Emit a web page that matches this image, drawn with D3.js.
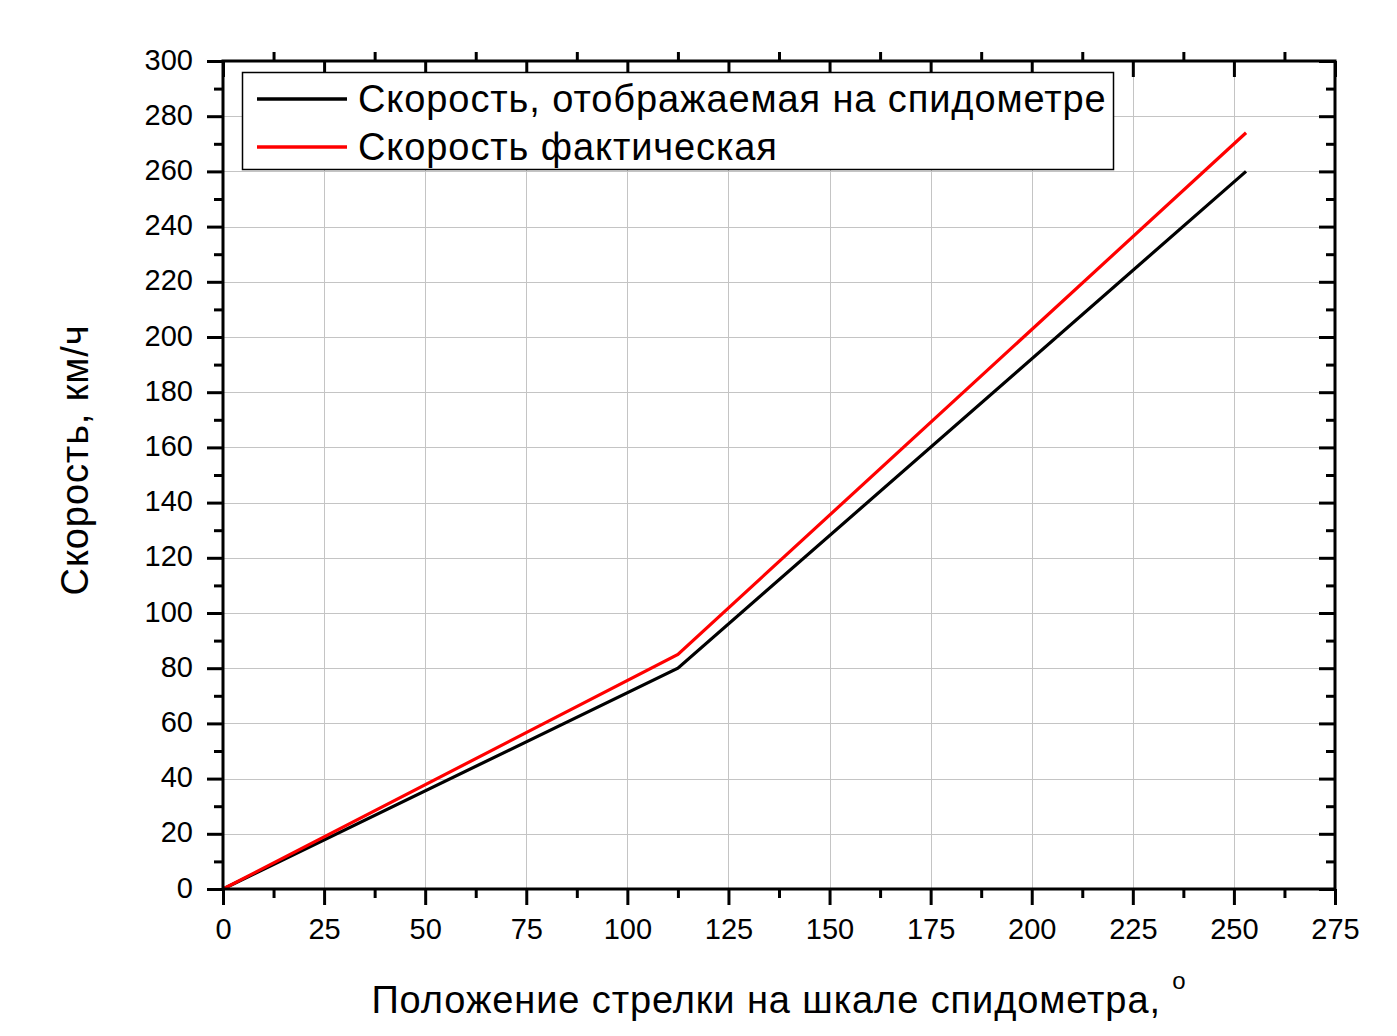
<!DOCTYPE html>
<html>
<head>
<meta charset="utf-8">
<script src="https://cdn.jsdelivr.net/npm/d3@7"></script>
<style>
  html, body { margin: 0; padding: 0; background: #fff; }
  svg { display: block; font-family: "Liberation Sans", Arial, sans-serif; }
</style>
</head>
<body>
<svg id="chart" width="1397" height="1036"></svg>
<script>
// ---- data ----
const seriesNames = ["Скорость, отображаемая на спидометре", "Скорость фактическая"];
const seriesColors = ["#000000", "#ff0000"];
const angles = [0, 112.5, 253];
const speedShown = [0, 80, 260];
const speedActual = [0, 85, 274];
const xTicks = [0, 25, 50, 75, 100, 125, 150, 175, 200, 225, 250, 275];
const yTicks = [0, 20, 40, 60, 80, 100, 120, 140, 160, 180, 200, 220, 240, 260, 280, 300];
const xTitle = "Положение стрелки на шкале спидометра, ";
const xTitleSup = "o";
const yTitle = "Скорость, км/ч";

// ---- layout ----
const FONT = "'Liberation Sans', Arial, sans-serif";
const L = 223, R = 1335, T = 61, B = 889;
const svg = d3.select("#chart");
const x = d3.scaleLinear().domain([0, 275]).range([L, R]);
const y = d3.scaleLinear().domain([0, 300]).range([B, T]);

const xMinor = d3.range(0, 275.01, 12.5).filter(v => xTicks.indexOf(v) < 0);
const yMinor = d3.range(0, 300.01, 10).filter(v => yTicks.indexOf(v) < 0);

// grid
const grid = svg.append("g").attr("stroke", "#c4c4c4").attr("stroke-width", 1);
xTicks.filter(v => v > 0 && v < 275).forEach(v => {
  grid.append("line").attr("x1", Math.round(x(v)) + 0.5).attr("x2", Math.round(x(v)) + 0.5).attr("y1", T).attr("y2", B);
});
yTicks.filter(v => v > 0 && v < 300).forEach(v => {
  grid.append("line").attr("y1", Math.round(y(v)) + 0.5).attr("y2", Math.round(y(v)) + 0.5).attr("x1", L).attr("x2", R);
});

// data lines
const line = d3.line().x(d => x(d[0])).y(d => y(d[1]));
[speedShown, speedActual].forEach((s, i) => {
  svg.append("path")
    .datum(angles.map((a, j) => [a, s[j]]))
    .attr("d", line)
    .attr("fill", "none")
    .attr("stroke", seriesColors[i])
    .attr("stroke-width", 3.2)
    .attr("stroke-linejoin", "miter");
});

// axes via d3 axis generators
const fontSize = 29;
function styleAxis(g) {
  g.selectAll(".domain").remove();
  g.selectAll("line").attr("stroke", "#000").attr("stroke-width", 3);
}
svg.append("g").attr("transform", `translate(0,${B})`)
  .call(d3.axisBottom(x).tickValues(xTicks).tickSize(16).tickPadding(13).tickFormat(d3.format("d")))
  .call(styleAxis)
  .call(g => g.selectAll("text").attr("font-size", fontSize).attr("fill", "#000").attr("font-family", FONT));
svg.append("g").attr("transform", `translate(0,${B})`)
  .call(d3.axisBottom(x).tickValues(xMinor).tickSize(9).tickFormat(""))
  .call(styleAxis);
svg.append("g").attr("transform", `translate(${L},0)`)
  .call(d3.axisLeft(y).tickValues(yTicks).tickSize(16).tickPadding(14).tickFormat(d3.format("d")))
  .call(styleAxis)
  .call(g => g.selectAll("text").attr("font-size", fontSize).attr("fill", "#000").attr("dy", "0.28em").attr("font-family", FONT));
svg.append("g").attr("transform", `translate(${L},0)`)
  .call(d3.axisLeft(y).tickValues(yMinor).tickSize(9).tickFormat(""))
  .call(styleAxis);
svg.append("g").attr("transform", `translate(0,${T})`)
  .call(d3.axisBottom(x).tickValues(xTicks).tickSize(16).tickFormat(""))
  .call(styleAxis);
svg.append("g").attr("transform", `translate(0,${T})`)
  .call(d3.axisTop(x).tickValues(xMinor).tickSize(9).tickFormat(""))
  .call(styleAxis);
svg.append("g").attr("transform", `translate(${R},0)`)
  .call(d3.axisLeft(y).tickValues(yTicks).tickSize(16).tickFormat(""))
  .call(styleAxis);
svg.append("g").attr("transform", `translate(${R},0)`)
  .call(d3.axisLeft(y).tickValues(yMinor).tickSize(9).tickFormat(""))
  .call(styleAxis);

// frame
svg.append("rect").attr("x", L).attr("y", T).attr("width", R - L).attr("height", B - T)
  .attr("fill", "none").attr("stroke", "#000").attr("stroke-width", 3);

// legend
const lg = svg.append("g");
lg.append("rect").attr("x", 242.5).attr("y", 72.5).attr("width", 871).attr("height", 97)
  .attr("fill", "#fff").attr("stroke", "#000").attr("stroke-width", 1.5);
seriesNames.forEach((n, i) => {
  const yy = 99 + i * 48;
  lg.append("line").attr("x1", 257).attr("x2", 347).attr("y1", yy).attr("y2", yy)
    .attr("stroke", seriesColors[i]).attr("stroke-width", 3.5);
  lg.append("text").attr("x", 358).attr("y", yy + 13).attr("font-size", 38)
    .attr("letter-spacing", 0.9).attr("font-family", FONT).attr("fill", "#000").text(n);
});

// axis titles
const xt = svg.append("text").attr("x", (L + R) / 2).attr("y", 1013)
  .attr("text-anchor", "middle").attr("font-size", 38).attr("letter-spacing", 0.9)
  .attr("font-family", FONT).attr("fill", "#000");
xt.append("tspan").text(xTitle);
xt.append("tspan").attr("dy", -24).attr("font-size", 24).text(xTitleSup);

svg.append("text").attr("transform", `translate(88,460) rotate(-90)`)
  .attr("text-anchor", "middle").attr("font-size", 38).attr("letter-spacing", 0.9)
  .attr("font-family", FONT).attr("fill", "#000").text(yTitle);
</script>
</body>
</html>
